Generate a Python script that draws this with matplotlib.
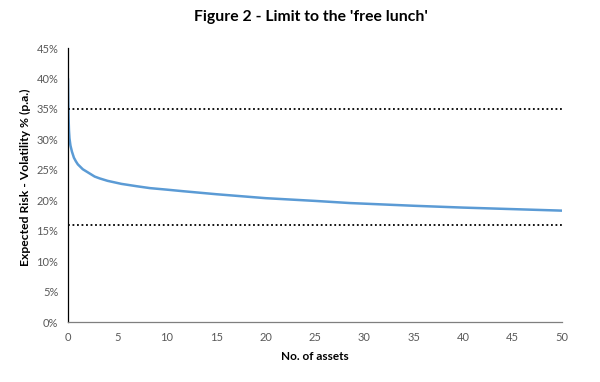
import numpy as np
import matplotlib.pyplot as plt
from matplotlib.ticker import FuncFormatter

# values
n_assets = [0, 0.03, 0.06, 0.1, 0.15, 0.25, 0.4, 0.6, 0.8, 1, 1.5, 2, 2.7, 3.2, 4,
            5.4, 7, 8.3, 10, 11.6, 15, 20, 25, 28.5, 35, 40, 45, 50]
volatility = [40, 36, 33.5, 31.5, 30.2, 29.0, 28.0, 27.0, 26.4, 25.9, 25.1, 24.6,
              23.9, 23.6, 23.2, 22.7, 22.3, 22.0, 21.75, 21.5, 21.0, 20.35, 19.9,
              19.55, 19.1, 18.8, 18.55, 18.3]
upper_limit = 35
lower_limit = 16

plt.rcParams['font.family'] = ['Lato', 'DejaVu Sans']

fig = plt.figure(figsize=(6, 3.82), dpi=100)
ax = fig.add_axes([0.1133, 0.157, 0.8234, 0.717])

ax.plot(n_assets, volatility, color='#5B9BD5', linewidth=1.8, solid_capstyle='round')
ax.plot([0, 50], [upper_limit, upper_limit], color='black', linestyle=(0, (1, 1.5)), linewidth=1.3)
ax.plot([0, 50], [lower_limit, lower_limit], color='black', linestyle=(0, (1, 1.5)), linewidth=1.3)

ax.set_xlim(0, 50)
ax.set_ylim(0, 45)
ax.set_xticks(np.arange(0, 51, 5))
ax.set_yticks(np.arange(0, 46, 5))
ax.yaxis.set_major_formatter(FuncFormatter(lambda v, p: f'{v:.0f}%'))
ax.tick_params(length=0, labelsize=8, labelcolor='#595959', pad=7)

for s in ['top', 'right']:
    ax.spines[s].set_visible(False)
ax.spines['left'].set_color('black')
ax.spines['left'].set_linewidth(0.9)
ax.spines['bottom'].set_color('#7f7f7f')
ax.spines['bottom'].set_linewidth(0.9)

ax.set_xlabel('No. of assets', fontsize=8.5, fontweight='bold', labelpad=6)
ax.set_ylabel('Expected Risk - Volatility % (p.a.)', fontsize=8.7, fontweight='bold', labelpad=4)
ax.yaxis.set_label_coords(-0.075, 0.53)
fig.text(0.518, 0.955, "Figure 2 - Limit to the 'free lunch'", ha='center', va='center',
         fontsize=11.3, fontweight='bold')

fig.savefig('out.png', dpi=100)
